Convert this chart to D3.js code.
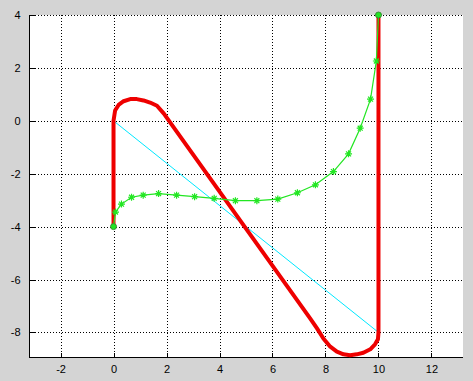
<!DOCTYPE html>
<html>
<head>
<meta charset="utf-8">
<script src="https://cdn.jsdelivr.net/npm/d3@7"></script>
<style>
  body { margin: 0; background: #d4d4d4; }
  #content svg { display: block; }
  text { font-family: "Liberation Sans", Arial, sans-serif; font-size: 11px; fill: #000; }
</style>
</head>
<body>
<div id="content"></div>
<script>
// tick values
var xTicks = [-2, 0, 2, 4, 6, 8, 10, 12];
var yTicks = [-8, -6, -4, -2, 0, 2, 4];

// green starred curve
var curveX = [0, 0.075, 0.30, 0.68, 1.12, 1.70, 2.38, 3.06, 3.80, 4.60, 5.41, 6.20, 6.94, 7.62, 8.30, 8.87, 9.31, 9.70, 9.92, 10];
var curveY = [-4, -3.45, -3.15, -2.89, -2.81, -2.75, -2.81, -2.87, -2.93, -3.02, -3.02, -2.96, -2.72, -2.42, -1.92, -1.25, -0.28, 0.82, 2.26, 4];

// red thick path
var pathX = [0, 0, 0.06, 0.19, 0.38, 0.63, 0.88, 1.13, 1.38, 1.64, 1.90, 7.42, 7.68, 7.92, 8.18, 8.43, 8.68, 8.93, 9.18, 9.43, 9.69, 9.87, 9.98, 10, 10];
var pathY = [-4, 0, 0.39, 0.60, 0.74, 0.82, 0.82, 0.77, 0.69, 0.57, 0.27, -7.47, -7.85, -8.23, -8.54, -8.73, -8.83, -8.86, -8.83, -8.77, -8.64, -8.45, -8.26, -8, 4];

// cyan straight line
var lineX = [0, 10];
var lineY = [0, -8];

// circle end markers
var endX = [0, 10];
var endY = [-4, 4];

var W = 473, H = 381;
var padL = 29, padT = 15, padR = 463, padB = 357;

var svg = d3.select("#content").append("svg")
    .attr("width", W)
    .attr("height", H);

svg.append("rect").attr("width", W).attr("height", H).attr("fill", "#d4d4d4");

var x = d3.scaleLinear().domain([-3.19, 13.19]).range([padL, padR]);
var y = d3.scaleLinear().domain([-8.93, 4]).range([padB, padT]);

//plot area
svg.append("rect")
    .attr("x", padL).attr("y", padT)
    .attr("width", padR - padL).attr("height", padB - padT)
    .attr("fill", "#fff");

//dotted grid
var grid = svg.append("g").attr("stroke", "#000").attr("stroke-dasharray", "1,2").attr("shape-rendering", "crispEdges");
grid.selectAll(".gx").data(xTicks).enter().append("line")
    .attr("x1", function(d){ return Math.round(x(d)) + 0.5; })
    .attr("x2", function(d){ return Math.round(x(d)) + 0.5; })
    .attr("y1", padT).attr("y2", padB);
grid.selectAll(".gy").data(yTicks).enter().append("line")
    .attr("y1", function(d){ return Math.round(y(d)) + 0.5; })
    .attr("y2", function(d){ return Math.round(y(d)) + 0.5; })
    .attr("x1", padL).attr("x2", padR);

//axes
var fmt = function(d){ return String(d); };
var xAxis = d3.axisBottom(x).tickValues(xTicks).tickFormat(fmt).tickSizeInner(-5).tickSizeOuter(0).tickPadding(8);
var yAxis = d3.axisLeft(y).tickValues(yTicks).tickFormat(fmt).tickSizeInner(-5).tickSizeOuter(0).tickPadding(9);

var gx = svg.append("g").attr("transform", "translate(0," + (padB + 0.5) + ")").call(xAxis);
var gy = svg.append("g").attr("transform", "translate(" + (padL + 0.5) + ",0)").call(yAxis);
[gx, gy].forEach(function(g){
    g.attr("font-family", null).attr("font-size", null);
    g.select(".domain").attr("stroke", "#000").attr("shape-rendering", "crispEdges");
    g.selectAll(".tick line").attr("stroke", "#000").attr("shape-rendering", "crispEdges");
    g.selectAll("text").attr("fill", "#000");
});
gx.select(".domain").attr("d", "M" + padL + ",0H" + padR);
gy.select(".domain").attr("d", "M0," + padT + "V" + padB);

var line = d3.line()
    .x(function(d){ return x(d[0]); })
    .y(function(d){ return y(d[1]); });

//cyan line
svg.append("path")
    .attr("d", line(d3.zip(lineX, lineY)))
    .attr("fill", "none").attr("stroke", "#00e8ff").attr("stroke-width", 1);
svg.selectAll(".cdot").data(d3.zip(lineX, lineY)).enter().append("circle")
    .attr("cx", function(d){ return x(d[0]); })
    .attr("cy", function(d){ return y(d[1]); })
    .attr("r", 1.5).attr("fill", "#888");

//red thick path
svg.append("path")
    .attr("d", line(d3.zip(pathX, pathY)))
    .attr("fill", "none").attr("stroke", "#ee0000").attr("stroke-width", 4)
    .attr("stroke-linejoin", "round");

//green curve
var green = "#22e622";
svg.append("path")
    .attr("d", line(d3.zip(curveX, curveY)))
    .attr("fill", "none").attr("stroke", green).attr("stroke-width", 1.2);

//asterisk markers
function star(r){
    var a = r * 0.7071;
    return "M" + (-r) + ",0H" + r + "M0," + (-r) + "V" + r +
        "M" + (-a) + "," + (-a) + "L" + a + "," + a +
        "M" + (-a) + "," + a + "L" + a + "," + (-a);
}
svg.selectAll(".star").data(d3.zip(curveX, curveY).slice(1, -1)).enter().append("path")
    .attr("transform", function(d){ return "translate(" + x(d[0]) + "," + y(d[1]) + ")"; })
    .attr("d", star(3.5))
    .attr("stroke", green).attr("stroke-width", 1.2).attr("fill", "none");

//end circles
svg.selectAll(".endc").data(d3.zip(endX, endY)).enter().append("circle")
    .attr("cx", function(d){ return x(d[0]); })
    .attr("cy", function(d){ return y(d[1]); })
    .attr("r", 3)
    .attr("fill", green).attr("stroke", "#3a8a3a").attr("stroke-width", 1);
</script>
</body>
</html>
